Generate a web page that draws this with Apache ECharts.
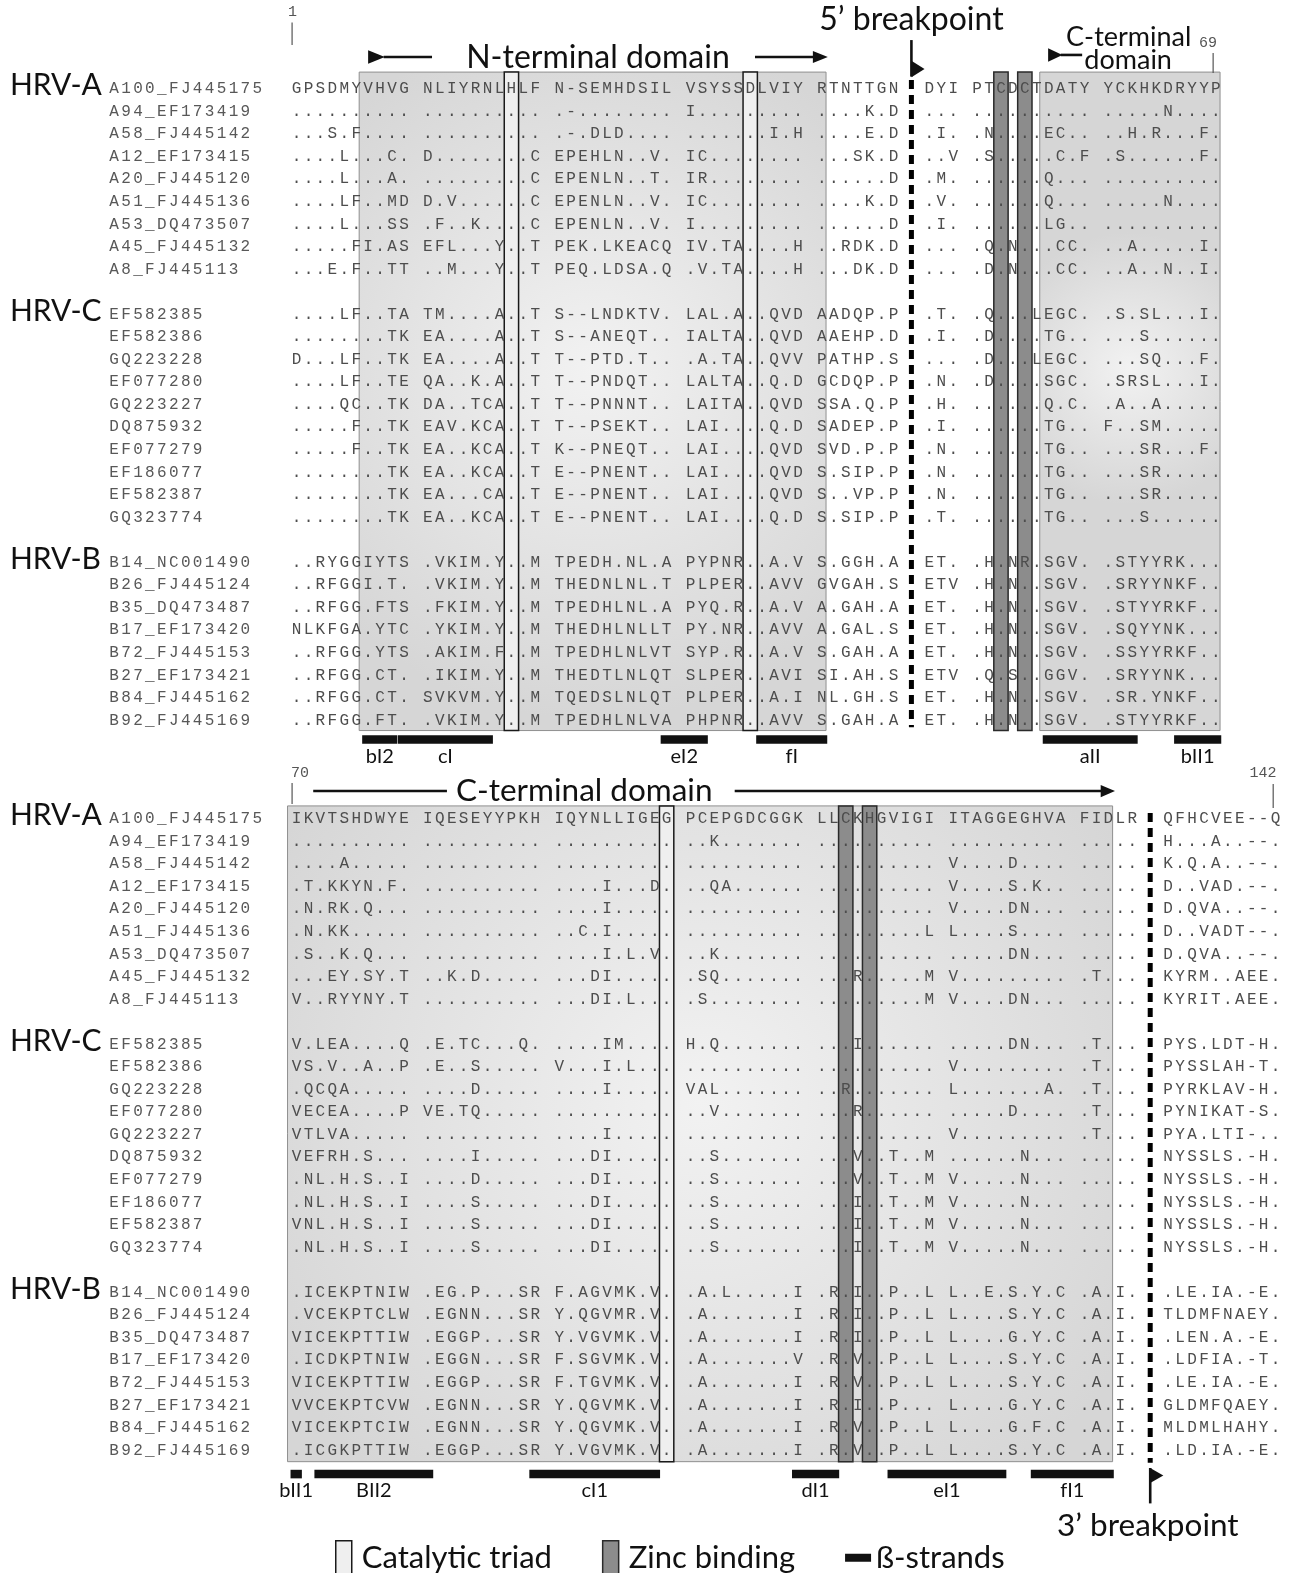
<!DOCTYPE html>
<html><head><meta charset="utf-8"><title>HRV 2A protease alignment</title>
<script src="https://cdn.jsdelivr.net/npm/echarts/dist/echarts.min.js"></script>
<style>html,body{margin:0;padding:0;background:#fff;}#chart{width:1292px;height:1573px;}</style>
</head><body><div id="chart"></div>
<script>
// ===================== DATA =====================
const groupNames = ['HRV-A', 'HRV-C', 'HRV-B'];
const groupSizes = [9, 10, 8];
const strainNames = [
  'A100_FJ445175','A94_EF173419','A58_FJ445142','A12_EF173415','A20_FJ445120','A51_FJ445136','A53_DQ473507','A45_FJ445132','A8_FJ445113',
  'EF582385','EF582386','GQ223228','EF077280','GQ223227','DQ875932','EF077279','EF186077','EF582387','GQ323774',
  'B14_NC001490','B26_FJ445124','B35_DQ473487','B17_EF173420','B72_FJ445153','B27_EF173421','B84_FJ445162','B92_FJ445169'
];
// top panel: residues 1-69 (two spaces = 5' breakpoint)
const nTermRows = [
  'GPSDMYVHVG NLIYRNLHLF N-SEMHDSIL VSYSSDLVIY RTNTTGN  DYI PTCDCTDATY YCKHKDRYYP',
  '.......... .......... .-........ I......... ....K.D  ... .......... .....N....',
  '...S.F.... .......... .-.DLD.... .......I.H ....E.D  .I. .N....EC.. ..H.R...F.',
  '....L...C. D........C EPEHLN..V. IC........ ...SK.D  ..V .S.....C.F .S......F.',
  '....L...A. .........C EPENLN..T. IR........ ......D  .M. ......Q... ..........',
  '....LF..MD D.V......C EPENLN..V. IC........ ....K.D  .V. ......Q... .....N....',
  '....L...SS .F..K....C EPENLN..V. I......... ......D  .I. ......LG.. ..........',
  '.....FI.AS EFL...Y..T PEK.LKEACQ IV.TA....H ..RDK.D  ... .Q.N...CC. ..A.....I.',
  '...E.F..TT ..M...Y..T PEQ.LDSA.Q .V.TA....H ...DK.D  ... .D.N...CC. ..A..N..I.',
  '....LF..TA TM....A..T S--LNDKTV. LAL.A..QVD AADQP.P  .T. .Q...LEGC. .S.SL...I.',
  '........TK EA....A..T S--ANEQT.. IALTA..QVD AAEHP.D  .I. .D....TG.. ...S......',
  'D...LF..TK EA....A..T T--PTD.T.. .A.TA..QVV PATHP.S  ... .D...LEGC. ...SQ...F.',
  '....LF..TE QA..K.A..T T--PNDQT.. LALTA..Q.D GCDQP.P  .N. .D....SGC. .SRSL...I.',
  '....QC..TK DA..TCA..T T--PNNNT.. LAITA..QVD SSA.Q.P  .H. ......Q.C. .A..A.....',
  '.....F..TK EAV.KCA..T T--PSEKT.. LAI....Q.D SADEP.P  .I. ......TG.. F..SM.....',
  '.....F..TK EA..KCA..T K--PNEQT.. LAI....QVD SVD.P.P  .N. ......TG.. ...SR...F.',
  '........TK EA..KCA..T E--PNENT.. LAI....QVD S.SIP.P  .N. ......TG.. ...SR.....',
  '........TK EA...CA..T E--PNENT.. LAI....QVD S..VP.P  .N. ......TG.. ...SR.....',
  '........TK EA..KCA..T E--PNENT.. LAI....Q.D S.SIP.P  .T. ......TG.. ...S......',
  '..RYGGIYTS .VKIM.Y..M TPEDH.NL.A PYPNR..A.V S.GGH.A  ET. .H.NR.SGV. .STYYRK...',
  '..RFGGI.T. .VKIM.Y..M THEDNLNL.T PLPER..AVV GVGAH.S  ETV .H.N..SGV. .SRYYNKF..',
  '..RFGG.FTS .FKIM.Y..M TPEDHLNL.A PYQ.R..A.V A.GAH.A  ET. .H.N..SGV. .STYYRKF..',
  'NLKFGA.YTC .YKIM.Y..M THEDHLNLLT PY.NR..AVV A.GAL.S  ET. .H.N..SGV. .SQYYNK...',
  '..RFGG.YTS .AKIM.F..M TPEDHLNLVT SYP.R..A.V S.GAH.A  ET. .H.N..SGV. .SSYYRKF..',
  '..RFGG.CT. .IKIM.Y..M THEDTLNLQT SLPER..AVI SI.AH.S  ETV .Q.S..GGV. .SRYYNK...',
  '..RFGG.CT. SVKVM.Y..M TQEDSLNLQT PLPER..A.I NL.GH.S  ET. .H.N..SGV. .SR.YNKF..',
  '..RFGG.FT. .VKIM.Y..M TPEDHLNLVA PHPNR..AVV S.GAH.A  ET. .H.N..SGV. .STYYRKF..'
];
// bottom panel: residues 70-142 (two spaces = 3' breakpoint)
const cTermRows = [
  'IKVTSHDWYE IQESEYYPKH IQYNLLIGEG PCEPGDCGGK LLCKHGVIGI ITAGGEGHVA FIDLR  QFHCVEE--Q',
  '.......... .......... .......... ..K....... .......... .......... .....  H...A..--.',
  '....A..... .......... .......... .......... .......... V....D.... .....  K.Q.A..--.',
  '.T.KKYN.F. .......... ....I...D. ..QA...... .......... V....S.K.. .....  D..VAD.--.',
  '.N.RK.Q... .......... ....I..... .......... .......... V....DN... .....  D.QVA..--.',
  '.N.KK..... .......... ..C.I..... .......... .........L L....S.... .....  D..VADT--.',
  '.S..K.Q... .......... ....I.L.V. ..K....... .......... .....DN... .....  D.QVA..--.',
  '...EY.SY.T ..K.D..... ...DI..... .SQ....... ...R.....M V......... .T...  KYRM..AEE.',
  'V..RYYNY.T .......... ...DI.L... .S........ .........M V....DN... .....  KYRIT.AEE.',
  'V.LEA....Q .E.TC...Q. ....IM.... H.Q....... ...I...... .....DN... .T...  PYS.LDT-H.',
  'VS.V..A..P .E..S..... V...I.L... .......... .......... V......... .T...  PYSSLAH-T.',
  '.QCQA..... ....D..... ....I..... VAL....... ..R....... L.......A. .T...  PYRKLAV-H.',
  'VECEA....P VE.TQ..... .......... ..V....... ...R...... .....D.... .T...  PYNIKAT-S.',
  'VTLVA..... .......... ....I..... .......... .......... V......... .T...  PYA.LTI-..',
  'VEFRH.S... ....I..... ...DI..... ..S....... ...V..T..M ......N... .....  NYSSLS.-H.',
  '.NL.H.S..I ....D..... ...DI..... ..S....... ...V..T..M V.....N... .....  NYSSLS.-H.',
  '.NL.H.S..I ....S..... ...DI..... ..S....... ...I..T..M V.....N... .....  NYSSLS.-H.',
  'VNL.H.S..I ....S..... ...DI..... ..S....... ...I..T..M V.....N... .....  NYSSLS.-H.',
  '.NL.H.S..I ....S..... ...DI..... ..S....... ...I..T..M V.....N... .....  NYSSLS.-H.',
  '.ICEKPTNIW .EG.P...SR F.AGVMK.V. .A.L.....I .R.I..P..L L..E.S.Y.C .A.I.  .LE.IA.-E.',
  '.VCEKPTCLW .EGNN...SR Y.QGVMR.V. .A.......I .R.I..P..L L....S.Y.C .A.I.  TLDMFNAEY.',
  'VICEKPTTIW .EGGP...SR Y.VGVMK.V. .A.......I .R.I..P..L L....G.Y.C .A.I.  .LEN.A.-E.',
  '.ICDKPTNIW .EGGN...SR F.SGVMK.V. .A.......V .R.V..P..L L....S.Y.C .A.I.  .LDFIA.-T.',
  'VICEKPTTIW .EGGP...SR F.TGVMK.V. .A.......I .R.V..P..L L....S.Y.C .A.I.  .LE.IA.-E.',
  'VVCEKPTCVW .EGNN...SR Y.QGVMK.V. .A.......I .R.I..P... L....G.Y.C .A.I.  GLDMFQAEY.',
  'VICEKPTCIW .EGNN...SR Y.QGVMK.V. .A.......I .R.V..P..L L....G.F.C .A.I.  MLDMLHAHY.',
  '.ICGKPTTIW .EGGP...SR Y.VGVMK.V. .A.......I .R.V..P..L L....S.Y.C .A.I.  .LD.IA.-E.'
];
// features, given as alignment column numbers (1-based, within each panel)
const topDomainCols = [[7, 41], [57, 70]];
const topCatalyticCols = [18, 36];
const topZincCols = [53, 55];
const topBreakAfterCol = 47;
const topStrandNames = ['bI2', 'cI', 'eI2', 'fI', 'aII', 'bII1'];
const topStrandCols = [[7, 9], [10, 16], [30, 32], [37, 41], [57, 63], [67, 70]];
const botDomainCols = [[1, 63]];
const botCatalyticCols = [30];
const botZincCols = [43, 45];
const botBreakAfterCol = 65;
const botStrandNames = ['bII1', 'BII2', 'cI1', 'dI1', 'eI1', 'fI1'];
const botStrandCols = [[1, 1], [3, 11], [20, 29], [40, 42], [47, 55], [58, 63]];
const topNumberLabels = ['1', '69'];
const botNumberLabels = ['70', '142'];
const domainTitles = ['N-terminal domain', 'C-terminal', 'domain', 'C-terminal domain'];
const breakpointTitles = ['5\u2019 breakpoint', '3\u2019 breakpoint'];
const legendNames = ['Catalytic triad', 'Zinc binding', '\u00DF-strands'];

// ===================== LAYOUT =====================
const CELL = 11.94, X0 = 296.5, ROWH = 22.55;
const XMIN = -24.5, XMAX = 83.5, YMIN = -0.5, YMAX = 28.5;
const PANEL_Y0 = [89, 819];
const MONO = '"Liberation Mono", "DejaVu Sans Mono", monospace';
const SANS = 'Lato, "Open Sans", sans-serif';
const SEQ_COLOR = '#4d4d4d';
const SEQ_SIZE = 16;
const NAME_X = -15.28;

function rowOf(r) {
  let acc = 0;
  for (let g = 0; g < groupSizes.length; g++) {
    if (r < acc + groupSizes[g]) return r + g;
    acc += groupSizes[g];
  }
  return r + groupSizes.length - 1;
}
function groupStartRow(g) { let acc = 0; for (let i = 0; i < g; i++) acc += groupSizes[i]; return acc + g; }

function shadeFill() {
  return new echarts.graphic.RadialGradient(0.5, 0.45, 0.75, [
    { offset: 0, color: '#f2f2f2' }, { offset: 1, color: '#d6d6d6' }]);
}
const ARROW = { stroke: '#111', lineWidth: 2.6 };
const TRI = { fill: '#111' };

function buildPanel(rows, cfg) {
  const cells = [];
  for (let i = 0; i < rows[0].length; i++) if (rows[0][i] !== ' ') cells.push(i);
  const cc = k => cells[k - 1];
  const P = { shade: [], cat: [], zinc: [], text: [], strands: [], ann: [] };
  cfg.domains.forEach(([a, b]) => P.shade.push({ kind: 'rect', x1: cc(a) - 0.75, x2: cc(b) + 0.35, y1: cfg.boxTop, y2: cfg.boxBot,
    style: { fill: shadeFill(), stroke: '#8f8f8f', lineWidth: 1 } }));
  cfg.catalytic.forEach(k => P.cat.push({ kind: 'rect', x1: cc(k) - 0.6, x2: cc(k) + 0.6, y1: cfg.boxTop, y2: cfg.boxBot,
    style: { fill: '#efefef', stroke: '#1a1a1a', lineWidth: 1.5 } }));
  cfg.zinc.forEach(k => P.zinc.push({ kind: 'rect', x1: cc(k) - 0.6, x2: cc(k) + 0.6, y1: cfg.boxTop, y2: cfg.boxBot,
    style: { fill: '#8c8c8c', stroke: '#2a2a2a', lineWidth: 1.5 } }));
  rows.forEach((s, r) => {
    const y = rowOf(r);
    for (let i = 0; i < s.length; i++) {
      if (s[i] === ' ') continue;
      P.text.push({ kind: 'text', x: i, y, text: s[i], style: { fontSize: SEQ_SIZE, fontFamily: MONO, fill: SEQ_COLOR } });
    }
  });
  strainNames.forEach((n, r) => {
    const y = rowOf(r);
    for (let j = 0; j < n.length; j++)
      P.text.push({ kind: 'text', x: NAME_X + j, y, text: n[j], style: { fontSize: SEQ_SIZE, fontFamily: MONO, fill: '#585858' } });
  });
  groupNames.forEach((g, gi) => P.text.push({ kind: 'text', x: -24, y: groupStartRow(gi) - 0.15, text: g,
    style: { fontSize: 30, fontFamily: SANS, fill: '#111', align: 'left' } }));
  const bx = (cc(cfg.breakAfter) + cc(cfg.breakAfter + 1)) / 2;
  P.ann.push({ kind: 'line', x1: bx, y1: cfg.dashTop, x2: bx, y2: cfg.dashBot,
    style: { stroke: '#000', lineWidth: 5, lineDash: [9, 6] } });
  cfg.strands.forEach(([a, b], i) => {
    const x1 = cc(a) - 0.5, x2 = cc(b) + 0.45;
    P.strands.push({ kind: 'rect', x1, x2, y1: cfg.barRow - 0.19, y2: cfg.barRow + 0.19, style: { fill: '#111' } });
    P.strands.push({ kind: 'text', x: (x1 + x2) / 2, y: cfg.barLabelRow, text: cfg.strandNames[i],
      style: { fontSize: 20, fontFamily: SANS, fill: '#111' } });
  });
  cfg.extra(P.ann, cc, bx);
  return P;
}

const topPanel = buildPanel(nTermRows, {
  domains: topDomainCols, catalytic: topCatalyticCols, zinc: topZincCols, breakAfter: topBreakAfterCol,
  strands: topStrandCols, strandNames: topStrandNames,
  boxTop: -0.75, boxBot: 28.45, dashTop: -0.4, dashBot: 28.3, barRow: 28.85, barLabelRow: 29.62,
  extra: (A, cc, bx) => {
    const [n1, n2] = topNumberLabels;
    const first = cc(1), last = cc(nTermRows[0].replace(/ /g, '').length);
    A.push({ kind: 'text', x: first - 0.33, y: -3.41, text: n1, style: { fontSize: 15, fontFamily: MONO, fill: '#555' } });
    A.push({ kind: 'line', x1: first - 0.37, y1: -2.95, x2: first - 0.37, y2: -1.95, style: { stroke: '#555', lineWidth: 1.2 } });
    A.push({ kind: 'text', x: last - 0.65, y: -2.04, text: n2, style: { fontSize: 15, fontFamily: MONO, fill: '#555' } });
    A.push({ kind: 'line', x1: last - 0.23, y1: -1.6, x2: last - 0.23, y2: -0.71, style: { stroke: '#555', lineWidth: 1.2 } });
    const [a, b] = topDomainCols[0];
    const ya = -1.42;
    A.push({ kind: 'text', x: (cc(a) + cc(b)) / 2 + 0.25, y: -1.37, text: domainTitles[0], style: { fontSize: 32, fontFamily: SANS, fill: '#111' } });
    A.push({ kind: 'poly', pts: [[cc(a), ya - 0.3], [cc(a), ya + 0.3], [cc(a) + 1.4, ya]], style: TRI });
    A.push({ kind: 'line', x1: cc(a) + 1.3, y1: ya, x2: cc(a) + 5.35, y2: ya, style: ARROW });
    A.push({ kind: 'line', x1: cc(b) - 5.6, y1: ya, x2: cc(b) - 0.6, y2: ya, style: ARROW });
    A.push({ kind: 'poly', pts: [[cc(b) - 0.75, ya - 0.27], [cc(b) - 0.75, ya + 0.27], [cc(b) + 0.5, ya]], style: TRI });
    const c = cc(topDomainCols[1][0]), yc = -1.51;
    A.push({ kind: 'text', x: c + 6.7, y: -2.31, text: domainTitles[1], style: { fontSize: 27, fontFamily: SANS, fill: '#111' } });
    A.push({ kind: 'text', x: c + 6.65, y: -1.29, text: domainTitles[2], style: { fontSize: 27, fontFamily: SANS, fill: '#111' } });
    A.push({ kind: 'poly', pts: [[c - 0.05, yc - 0.3], [c - 0.05, yc + 0.3], [c + 1.15, yc]], style: TRI });
    A.push({ kind: 'line', x1: c + 1.0, y1: yc, x2: c + 2.8, y2: yc, style: ARROW });
    A.push({ kind: 'text', x: bx, y: -3.06, text: breakpointTitles[0], style: { fontSize: 32, fontFamily: SANS, fill: '#111' } });
    A.push({ kind: 'line', x1: bx, y1: -2.17, x2: bx, y2: -0.55, style: ARROW });
    A.push({ kind: 'poly', pts: [[bx, -1.25], [bx, -0.52], [bx + 1.1, -0.885]], style: TRI });
  }
});

const botPanel = buildPanel(cTermRows, {
  domains: botDomainCols, catalytic: botCatalyticCols, zinc: botZincCols, breakAfter: botBreakAfterCol,
  strands: botStrandCols, strandNames: botStrandNames,
  boxTop: -0.58, boxBot: 28.5, dashTop: -0.27, dashBot: 28.55, barRow: 29.05, barLabelRow: 29.8,
  extra: (A, cc, bx) => {
    const [n1, n2] = botNumberLabels;
    const first = cc(1), last = cc(cTermRows[0].replace(/ /g, '').length);
    A.push({ kind: 'text', x: first + 0.3, y: -2.04, text: n1, style: { fontSize: 15, fontFamily: MONO, fill: '#555' } });
    A.push({ kind: 'line', x1: first - 0.37, y1: -1.6, x2: first - 0.37, y2: -0.67, style: { stroke: '#555', lineWidth: 1.2 } });
    A.push({ kind: 'text', x: last - 1.05, y: -2.04, text: n2, style: { fontSize: 15, fontFamily: MONO, fill: '#555' } });
    A.push({ kind: 'line', x1: last - 0.2, y1: -1.55, x2: last - 0.2, y2: -0.49, style: { stroke: '#555', lineWidth: 1.2 } });
    const b = cc(botDomainCols[0][1]), y = -1.24;
    A.push({ kind: 'line', x1: first + 1.4, y1: y, x2: first + 12.6, y2: y, style: ARROW });
    A.push({ kind: 'text', x: first + 24.1, y: y, text: domainTitles[3], style: { fontSize: 31.5, fontFamily: SANS, fill: '#111' } });
    A.push({ kind: 'line', x1: first + 36.7, y1: y, x2: b - 0.5, y2: y, style: ARROW });
    A.push({ kind: 'poly', pts: [[b - 0.65, y - 0.27], [b - 0.65, y + 0.27], [b + 0.55, y]], style: TRI });
    A.push({ kind: 'text', x: bx - 0.2, y: 31.35, text: breakpointTitles[1], style: { fontSize: 31.5, fontFamily: SANS, fill: '#111' } });
    A.push({ kind: 'line', x1: bx, y1: 28.78, x2: bx, y2: 30.35, style: ARROW });
    A.push({ kind: 'poly', pts: [[bx, 28.78], [bx, 29.45], [bx + 1.1, 29.115]], style: TRI });
  }
});

// ===================== CHART =====================
function makeRender(items) {
  return function (params, api) {
    const it = items[params.dataIndex];
    const c = (x, y) => api.coord([x, y]);
    if (it.kind === 'rect') {
      const a = c(it.x1, it.y1), b = c(it.x2, it.y2);
      return { type: 'rect', silent: true, shape: { x: Math.min(a[0], b[0]), y: Math.min(a[1], b[1]), width: Math.abs(b[0] - a[0]), height: Math.abs(b[1] - a[1]) }, style: it.style };
    }
    if (it.kind === 'text') {
      const p = c(it.x, it.y);
      return { type: 'text', silent: true, x: p[0], y: p[1], style: Object.assign({ text: it.text, align: 'center', verticalAlign: 'middle' }, it.style) };
    }
    if (it.kind === 'line') {
      const a = c(it.x1, it.y1), b = c(it.x2, it.y2);
      return { type: 'line', silent: true, shape: { x1: a[0], y1: a[1], x2: b[0], y2: b[1] }, style: it.style };
    }
    if (it.kind === 'poly') {
      return { type: 'polygon', silent: true, shape: { points: it.pts.map(q => c(q[0], q[1])) }, style: it.style };
    }
    return null;
  };
}
function series(name, items, gi, z) {
  return {
    type: 'custom', name, xAxisIndex: gi, yAxisIndex: gi, z, silent: true, animation: false, clip: false,
    data: items.map(it => it.kind === 'poly' ? it.pts[0] : [it.x != null ? it.x : it.x1, it.y != null ? it.y : it.y1]),
    renderItem: makeRender(items)
  };
}

const bad = [];
nTermRows.forEach((s, i) => { if (s.length !== nTermRows[0].length) bad.push('N' + i + ':' + s.length); });
cTermRows.forEach((s, i) => { if (s.length !== cTermRows[0].length) bad.push('C' + i + ':' + s.length); });

const gridW = (XMAX - XMIN) * CELL, gridH = (YMAX - YMIN) * ROWH;
const grids = PANEL_Y0.map(y0 => ({ left: X0 + XMIN * CELL, top: y0 + YMIN * ROWH, width: gridW, height: gridH, outerBoundsMode: 'none', containLabel: false }));
const axisOff = { show: false, splitLine: { show: false } };

const chart = echarts.init(document.getElementById('chart'), null, { renderer: 'canvas' });
const allSeries = [];
[topPanel, botPanel].forEach((P, gi) => {
  allSeries.push(series('Shading', P.shade, gi, 1));
  allSeries.push(series(legendNames[0], P.cat, gi, 2));
  allSeries.push(series(legendNames[1], P.zinc, gi, 2));
  allSeries.push(series('Residues', P.text, gi, 4));
  allSeries.push(series(legendNames[2], P.strands, gi, 3));
  allSeries.push(series('Annotations', P.ann, gi, 3));
});
const option = {
  animation: false,
  backgroundColor: '#fff',
  grid: grids,
  xAxis: [0, 1].map(i => Object.assign({ type: 'value', gridIndex: i, min: XMIN, max: XMAX }, axisOff)),
  yAxis: [0, 1].map(i => Object.assign({ type: 'value', gridIndex: i, min: YMIN, max: YMAX, inverse: true }, axisOff)),
  legend: {
    left: 330, top: 1535, orient: 'horizontal', itemWidth: 26, itemHeight: 34, itemGap: 50, selectedMode: false,
    textStyle: { fontFamily: SANS, fontSize: 31, color: '#111' },
    data: [
      { name: legendNames[0], icon: 'path://M0,0H16V34H0Z', itemStyle: { color: '#efefef', borderColor: '#1a1a1a', borderWidth: 1.5 } },
      { name: legendNames[1], icon: 'path://M0,0H16V34H0Z', itemStyle: { color: '#8c8c8c', borderColor: '#2a2a2a', borderWidth: 1.5 } },
      { name: legendNames[2], icon: 'path://M0,0H26V8H0Z', itemStyle: { color: '#111', borderWidth: 0 } }
    ]
  },
  series: allSeries
};
if (bad.length) option.title = { text: 'LEN ' + bad.join(' '), top: 760, left: 600, textStyle: { color: 'red', fontSize: 14 } };
chart.setOption(option);
</script></body></html>
